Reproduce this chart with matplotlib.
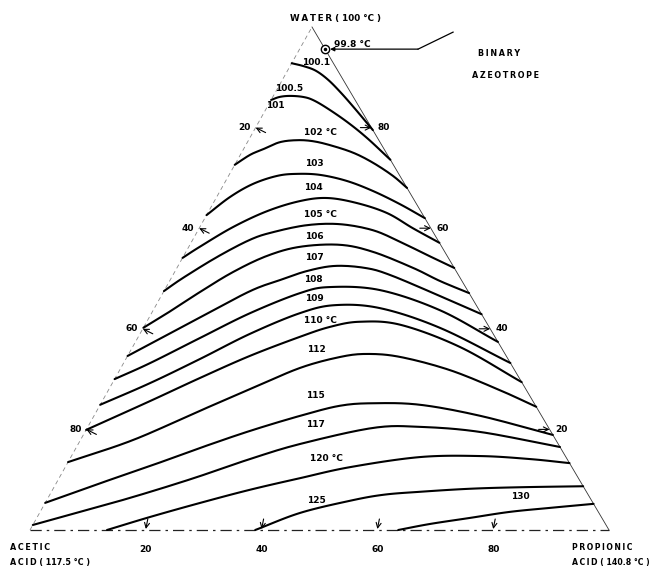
import numpy as np
import matplotlib
matplotlib.use("Agg")
import matplotlib.pyplot as plt

# ---------------- data (compositions in %: water, propionic acid) ----------------
T100_1 = [(92.8, 0.0), (92.2, 2.4), (91.3, 4.9), (89.5, 7.9), (86.9, 11.4), (83.7, 15.4), (79.5, 20.5)]
T100_5 = [(85.5, 0.0), (86.1, 1.2), (86.3, 2.9), (86.1, 5.2), (85.5, 7.2), (83.9, 10.4), (81.1, 15.3),
          (77.9, 20.3), (73.6, 26.4)]
T102 = [(72.6, 0.0), (74.6, 1.7), (75.7, 3.4), (77.1, 5.6), (77.5, 8.4), (77.3, 11.2), (76.5, 14.6),
        (75.0, 19.3), (73.0, 23.7), (70.4, 28.4), (68.0, 32.0)]
T103 = [(62.6, 0.0), (66.2, 2.3), (68.8, 5.0), (70.4, 8.4), (70.8, 11.6), (70.6, 15.7), (69.4, 20.9),
        (67.4, 26.4), (64.8, 32.3), (62.0, 38.0)]
T104 = [(54.1, 0.0), (56.3, 1.9), (60.2, 5.7), (63.4, 10.1), (65.4, 14.8), (66.0, 19.2), (65.0, 24.8),
        (63.0, 31.0), (60.0, 36.9), (57.1, 42.9)]
T105 = [(47.5, 0.0), (50.1, 2.0), (54.3, 5.9), (57.7, 9.9), (59.2, 13.1), (60.6, 18.3), (60.8, 23.9),
        (59.6, 30.2), (57.3, 36.0), (54.7, 41.9), (52.1, 47.9)]
T106 = [(40.2, 0.0), (43.1, 2.7), (47.3, 6.3), (51.3, 10.1), (54.5, 14.4), (56.3, 19.2), (56.7, 25.9),
        (55.3, 32.3), (52.1, 40.8), (49.5, 46.7), (47.1, 52.9)]
T107 = [(34.6, 0.0), (38.8, 4.8), (42.3, 8.8), (47.5, 14.9), (49.7, 19.0), (51.5, 22.8), (52.5, 27.1),
        (52.1, 32.5), (50.7, 37.5), (46.5, 48.2), (42.9, 57.1)]
T108 = [(30.0, 0.0), (33.2, 4.6), (38.2, 10.8), (43.1, 17.0), (47.1, 23.7), (48.3, 28.3), (47.7, 37.2),
        (43.7, 49.5), (37.4, 62.6)]
T109 = [(24.9, 0.0), (29.2, 6.5), (34.0, 12.8), (39.0, 19.0), (43.1, 25.6), (44.7, 30.9), (44.1, 39.0),
        (40.2, 51.2), (33.2, 66.8)]
T110 = [(19.9, 0.0), (25.6, 8.2), (30.2, 14.6), (34.6, 21.1), (38.4, 27.9), (40.4, 32.2), (41.4, 36.8),
        (40.8, 44.1), (36.4, 56.5), (29.4, 70.6)]
T112 = [(13.5, 0.0), (17.9, 9.1), (23.7, 17.8), (28.0, 24.4), (32.2, 30.9), (34.4, 36.8), (35.0, 41.2),
        (34.4, 47.2), (31.8, 57.0), (27.8, 67.6), (24.5, 75.5)]
T115 = [(5.4, 0.0), (9.3, 7.6), (12.7, 14.5), (16.3, 21.4), (19.7, 28.4), (22.7, 35.6), (24.7, 41.5),
        (25.2, 47.0), (24.9, 55.2), (22.7, 66.7), (18.9, 81.1)]
T117 = [(1.0, 0.0), (3.6, 6.9), (5.8, 12.7), (8.2, 18.5), (10.7, 24.1), (14.1, 31.1), (17.1, 38.3),
        (20.3, 49.4), (20.5, 57.4), (19.5, 68.2), (16.5, 83.5)]
T120 = [(0.0, 13.3), (2.6, 19.5), (5.4, 26.8), (8.0, 34.1), (10.3, 41.6), (12.5, 49.2), (14.5, 60.3),
        (14.7, 70.6), (14.1, 79.5), (13.3, 86.7)]
T125 = [(0.0, 38.9), (3.4, 45.0), (5.8, 52.4), (7.0, 57.6), (7.6, 63.7), (8.2, 72.0), (8.5, 80.5), (8.7, 91.3)]
T130 = [(0.0, 63.6), (1.2, 68.5), (2.4, 74.8), (3.6, 81.1), (4.4, 87.7), (5.2, 94.8)]

isotherms = [T100_1, T100_5, T102, T103, T104, T105, T106, T107, T108, T109,
             T110, T112, T115, T117, T120, T125, T130]

# isotherm labels: text, water %, propionic %
label_text = ["100.1", "100.5", "101", "102 °C", "103", "104", "105 °C", "106", "107", "108",
              "109", "110 °C", "112", "115", "117", "120 °C", "125", "130"]
label_w = [93.0, 87.7, 84.3, 79.1, 72.8, 68.0, 62.8, 58.3, 54.1, 49.9,
           46.1, 41.7, 35.8, 26.8, 20.9, 14.3, 5.8, 6.6]
label_p = [4.1, 2.0, 1.4, 11.6, 13.6, 15.9, 19.5, 20.7, 22.7, 24.7,
           26.6, 29.8, 32.0, 36.3, 39.2, 44.2, 46.6, 81.4]

# axis ticks (percent)
left_ticks = [20, 40, 60, 80]      # acetic acid along water-acetic edge
right_ticks = [80, 60, 40, 20]     # water along water-propionic edge
bottom_ticks = [20, 40, 60, 80]    # propionic acid along acetic-propionic edge

azeo_w, azeo_p = 95.6, 4.4         # binary azeotrope, 99.8 °C

# ---------------- geometry ----------------
W_V = np.array([312.0, 27.0])
A_V = np.array([30.0, 530.0])
P_V = np.array([609.0, 530.0])
TS = "\u2009"  # thin space for letter-spaced captions


def spaced(s):
    return TS.join(list(s))


def tern(w, p):
    w = np.asarray(w, float) / 100.0
    p = np.asarray(p, float) / 100.0
    a = 1.0 - w - p
    x = a * A_V[0] + p * P_V[0] + w * W_V[0]
    y = a * A_V[1] + p * P_V[1] + w * W_V[1]
    return x, y


def smooth(x, y, n=14):
    pts = np.column_stack([x, y])
    if len(pts) < 3:
        return pts
    P = np.vstack([2 * pts[0] - pts[1], pts, 2 * pts[-1] - pts[-2]])
    out = []
    t = np.linspace(0, 1, n, endpoint=False)[:, None]
    for i in range(1, len(P) - 2):
        p0, p1, p2, p3 = P[i - 1], P[i], P[i + 1], P[i + 2]
        seg = 0.5 * ((2 * p1) + (-p0 + p2) * t + (2 * p0 - 5 * p1 + 4 * p2 - p3) * t ** 2
                     + (-p0 + 3 * p1 - 3 * p2 + p3) * t ** 3)
        out.append(seg)
    out.append(pts[-1:])
    return np.vstack(out)


fig = plt.figure(figsize=(6.52, 5.66), dpi=100)
ax = fig.add_axes([0, 0, 1, 1])
ax.set_xlim(0, 652)
ax.set_ylim(566, 0)
ax.axis("off")

# triangle edges
ax.plot([A_V[0], W_V[0]], [A_V[1], W_V[1]], color="#888888", lw=0.6, ls=(0, (5, 4)))
ax.plot([W_V[0], P_V[0]], [W_V[1], P_V[1]], color="#333333", lw=0.6)
ax.plot([A_V[0], P_V[0]], [A_V[1], P_V[1]], color="#222222", lw=0.9, ls=(0, (9, 4, 2, 4)))

# isotherms
for curve in isotherms:
    ws = [c[0] for c in curve]
    ps = [c[1] for c in curve]
    x, y = tern(ws, ps)
    s = smooth(x, y)
    ax.plot(s[:, 0], s[:, 1], color="black", lw=1.5, solid_capstyle="round")

# isotherm labels
for txt, w, p in zip(label_text, label_w, label_p):
    x, y = tern(w, p)
    ax.text(x, y, txt, ha="center", va="center", fontsize=6.5, fontweight="bold",
            family="DejaVu Sans")

arrow_kw = dict(arrowstyle="->", lw=0.8, color="black", mutation_scale=9,
                shrinkA=0, shrinkB=0)
# left edge ticks (acetic %)
for a in left_ticks:
    x, y = tern(100 - a, 0)
    ax.annotate("", xy=(x, y), xytext=(x + 10, y + 5), arrowprops=arrow_kw)
    ax.text(x - 11, y, str(a), ha="center", va="center", fontsize=6.5, fontweight="bold")
# right edge ticks (water %)
for wv in right_ticks:
    x, y = tern(wv, 100 - wv)
    ax.annotate("", xy=(x, y), xytext=(x - 11, y), arrowprops=arrow_kw)
    ax.text(x + 12, y, str(wv), ha="center", va="center", fontsize=6.5, fontweight="bold")
# bottom ticks (propionic %)
for pv in bottom_ticks:
    x, y = tern(0, pv)
    ax.annotate("", xy=(x, y - 1), xytext=(x + 2, y - 11), arrowprops=arrow_kw)
    ax.text(x, y + 20, str(pv), ha="center", va="center", fontsize=6.5, fontweight="bold")

# binary azeotrope
ax_x, ax_y = tern(azeo_w, azeo_p)
ax.plot([ax_x], [ax_y], marker="o", ms=6, mfc="white", mec="black", mew=1.0)
ax.plot([ax_x], [ax_y], marker="o", ms=1.5, color="black")
ax.annotate("", xy=(ax_x + 5, ax_y), xytext=(ax_x + 93, ax_y),
            arrowprops=dict(arrowstyle="-|>", lw=0.9, color="black", mutation_scale=6,
                            shrinkA=0, shrinkB=0))
ax.plot([ax_x + 93, ax_x + 128], [ax_y, ax_y - 17], color="black", lw=0.9)
ax.text(ax_x + 9, ax_y - 5, "99.8 °C", ha="left", va="center", fontsize=6.5, fontweight="bold")
ax.text(ax_x + 153, ax_y + 4, spaced("BINARY"), ha="left", va="center", fontsize=5.8,
        fontweight="bold")
ax.text(ax_x + 147, ax_y + 26, spaced("AZEOTROPE"), ha="left", va="center", fontsize=5.8,
        fontweight="bold")

# vertex labels
ax.text(W_V[0] + 24, W_V[1] - 9, spaced("WATER") + " ( 100 °C )", ha="center", va="center",
        fontsize=6.3, fontweight="bold")
ax.text(10, 548, spaced("ACETIC"), ha="left", va="center", fontsize=5.8, fontweight="bold")
ax.text(10, 562, spaced("ACID") + " ( 117.5 °C )", ha="left", va="center", fontsize=5.8,
        fontweight="bold")
ax.text(572, 547, spaced("PROPIONIC"), ha="left", va="center", fontsize=5.6, fontweight="bold")
ax.text(572, 562, spaced("ACID") + " ( 140.8 °C )", ha="left", va="center", fontsize=5.6,
        fontweight="bold")

fig.savefig("out.png", dpi=100)
